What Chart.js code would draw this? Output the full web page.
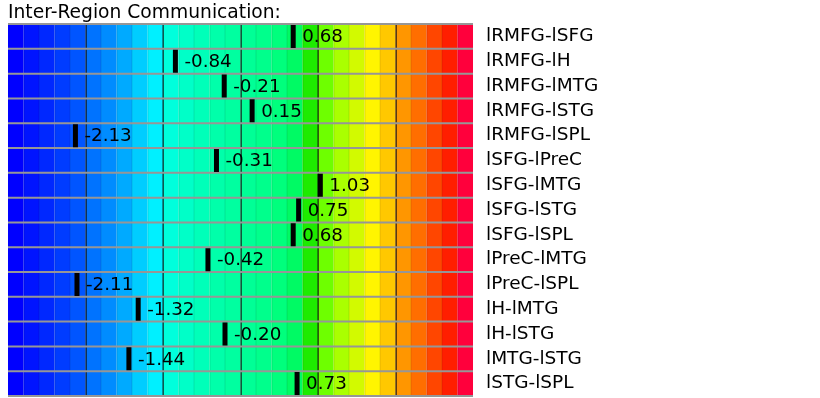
<!DOCTYPE html>
<html>
<head>
<meta charset="utf-8">
<script src="https://cdn.jsdelivr.net/npm/chart.js@4/dist/chart.umd.min.js"></script>
<style>
  html, body { margin: 0; padding: 0; background: #fff; }
  #wrap { width: 820px; height: 398px; }
</style>
</head>
<body>
<div id="wrap"><canvas id="chart"></canvas></div>
<script>
// connexions entre régions et leurs valeurs
const pairs = [
    'lRMFG-lSFG', 'lRMFG-lH', 'lRMFG-lMTG', 'lRMFG-lSTG', 'lRMFG-lSPL',
    'lSFG-lPreC', 'lSFG-lMTG', 'lSFG-lSTG', 'lSFG-lSPL', 'lPreC-lMTG',
    'lPreC-lSPL', 'lH-lMTG', 'lH-lSTG', 'lMTG-lSTG', 'lSTG-lSPL'
];
const values = [
    0.68, -0.84, -0.21, 0.15, -2.13,
    -0.31, 1.03, 0.75, 0.68, -0.42,
    -2.11, -1.32, -0.20, -1.44, 0.73
];
const scaleMin = -3;
const scaleMax = 3;
const majorTicks = [-2, -1, 0, 1, 2];
const cellStep = 0.2;

// couleurs des cases du fond (bleu -> cyan -> vert -> jaune -> rouge)
const cellColors = [
    'rgb(0,0,255)', 'rgb(0,20,255)', 'rgb(0,40,255)', 'rgb(0,60,255)', 'rgb(0,85,255)',
    'rgb(0,115,255)', 'rgb(0,140,255)', 'rgb(0,170,255)', 'rgb(0,205,255)', 'rgb(0,240,255)',
    'rgb(0,255,220)', 'rgb(0,255,200)', 'rgb(0,255,185)', 'rgb(0,255,170)', 'rgb(0,255,160)',
    'rgb(0,255,150)', 'rgb(0,255,140)', 'rgb(0,255,125)', 'rgb(0,250,100)', 'rgb(30,235,0)',
    'rgb(110,255,0)', 'rgb(170,255,0)', 'rgb(210,250,0)', 'rgb(255,245,0)', 'rgb(255,200,0)',
    'rgb(255,150,0)', 'rgb(255,110,0)', 'rgb(255,70,0)', 'rgb(255,30,0)', 'rgb(255,0,60)'
];

const FONT = "'DejaVu Sans', sans-serif";

const cellsPlugin = {
    id: 'cells',
    beforeDatasetsDraw(chart) {
        const { ctx, scales: { x, y } } = chart;
        const band = Math.abs(y.getPixelForValue(1) - y.getPixelForValue(0));
        ctx.save();
        pairs.forEach((p, i) => {
            const cy = y.getPixelForValue(i);
            const top = cy - band / 2;
            const bottom = cy + band / 2;
            cellColors.forEach((c, k) => {
                const x0 = x.getPixelForValue(scaleMin + k * cellStep);
                const x1 = x.getPixelForValue(scaleMin + (k + 1) * cellStep);
                ctx.fillStyle = c;
                ctx.fillRect(x0, top, x1 - x0, bottom - top);
                if (k > 0) {
                    ctx.fillStyle = 'rgba(0,0,0,0.10)';
                    ctx.fillRect(Math.round(x0) - 0.5, top, 1, bottom - top);
                }
            });
            majorTicks.forEach(t => {
                const px = x.getPixelForValue(t);
                ctx.fillStyle = 'rgba(20,20,20,0.85)';
                ctx.fillRect(Math.round(px) - 0.5, top, 1.3, bottom - top);
            });
        });
        // séparateurs entre les lignes
        ctx.strokeStyle = 'rgb(150,150,150)';
        ctx.lineWidth = 2;
        const left = x.getPixelForValue(scaleMin);
        const right = x.getPixelForValue(scaleMax);
        for (let i = 0; i <= pairs.length; i++) {
            const yy = y.getPixelForValue(i) - band / 2;
            ctx.beginPath();
            ctx.moveTo(left, yy);
            ctx.lineTo(right, yy);
            ctx.stroke();
        }
        ctx.restore();
    },
    afterDatasetsDraw(chart) {
        const { ctx } = chart;
        const meta = chart.getDatasetMeta(0);
        ctx.save();
        ctx.fillStyle = '#000';
        ctx.font = '18.3px ' + FONT;
        ctx.textBaseline = 'middle';
        meta.data.forEach((pt, i) => {
            ctx.fillText(values[i].toFixed(2), pt.x + 9, pt.y + 1);
        });
        ctx.restore();
    }
};

new Chart(document.getElementById('chart'), {
    type: 'line',
    data: {
        labels: pairs,
        datasets: [{
            data: values,
            showLine: false,
            pointStyle: 'line',
            rotation: 90,
            radius: 11.5,
            hoverRadius: 11.5,
            borderWidth: 5,
            borderColor: '#000',
            backgroundColor: '#000'
        }]
    },
    options: {
        indexAxis: 'y',
        responsive: true,
        maintainAspectRatio: false,
        animation: false,
        layout: { autoPadding: false, padding: { left: 8, right: 0, top: 0, bottom: 2 } },
        scales: {
            x: {
                type: 'linear',
                min: scaleMin,
                max: scaleMax,
                display: false
            },
            y: {
                type: 'category',
                position: 'right',
                offset: true,
                grid: { display: false, drawTicks: false },
                border: { display: false },
                ticks: {
                    color: '#000',
                    padding: 13,
                    autoSkip: false,
                    font: { family: FONT, size: 18.5 }
                },
                afterFit(scale) {
                    scale.width = 347;
                    scale.paddingTop = 0;
                    scale.paddingBottom = 0;
                }
            }
        },
        plugins: {
            legend: { display: false },
            tooltip: { enabled: false },
            title: {
                display: true,
                text: 'Inter-Region Communication:',
                align: 'start',
                color: '#000',
                font: { family: FONT, size: 18.7, weight: 'normal', lineHeight: 1.1 },
                padding: { top: 3, bottom: 0.5 }
            }
        }
    },
    plugins: [cellsPlugin]
});
</script>
</body>
</html>
